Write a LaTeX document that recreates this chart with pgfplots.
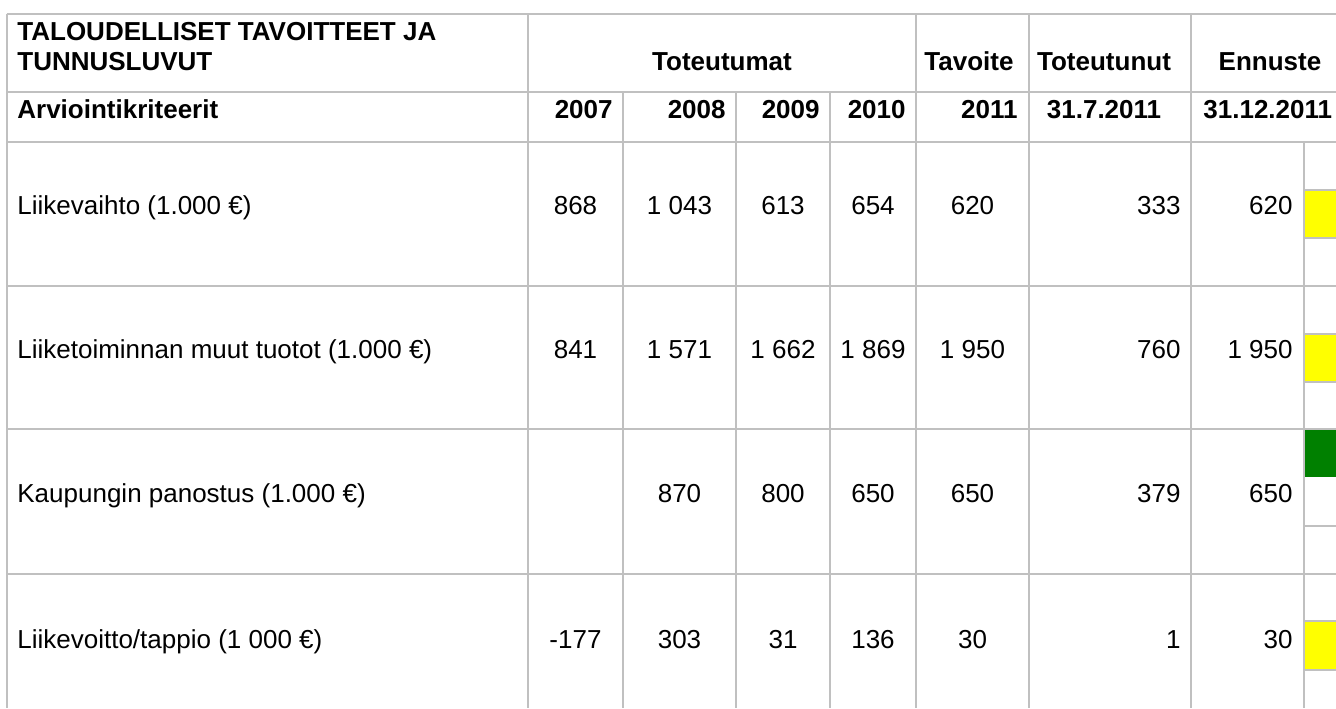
\documentclass[border=0pt]{standalone}
\usepackage{pgfplots}
\pgfplotsset{compat=1.18}
\usepackage{fontspec}
\setmainfont{Liberation Sans}
\definecolor{gridgray}{HTML}{C0C0C0}
\definecolor{cellyellow}{HTML}{FFFF00}
\definecolor{cellgreen}{HTML}{008000}
\begin{document}
\fontsize{13}{15}\selectfont
\begin{tikzpicture}
\begin{axis}[
  width=668pt, height=354pt, scale only axis,
  xmin=0, xmax=1336, ymin=0, ymax=708, y dir=reverse,
  hide axis, clip=true,
  every node near coord/.style={inner sep=0pt, font=\fontsize{13}{15}\selectfont},
  gline/.style={gridgray, line width=1pt, forget plot, mark=none},
]
% background (keeps the full picture area)
\addplot[draw=none, fill=white, forget plot] coordinates {(0,0) (1336,0) (1336,708) (0,708)} -- cycle;

% status squares
\addplot[draw=none, fill=cellyellow, forget plot] coordinates {(1305,191) (1336,191) (1336,237) (1305,237)} -- cycle;
\addplot[draw=none, fill=cellyellow, forget plot] coordinates {(1305,335) (1336,335) (1336,381) (1305,381)} -- cycle;
\addplot[draw=none, fill=cellgreen, forget plot] coordinates {(1305,430) (1336,430) (1336,477) (1305,477)} -- cycle;
\addplot[draw=none, fill=cellyellow, forget plot] coordinates {(1305,622) (1336,622) (1336,669) (1305,669)} -- cycle;

% horizontal grid lines
\addplot[gline] coordinates {(6.5,14) (1336,14)};
\addplot[gline] coordinates {(6.5,92) (1336,92)};
\addplot[gline] coordinates {(6.5,142) (1336,142)};
\addplot[gline] coordinates {(6.5,286) (1336,286)};
\addplot[gline] coordinates {(6.5,429) (1336,429)};
\addplot[gline] coordinates {(6.5,574) (1336,574)};
% sub-cell lines of the status column
\addplot[gline] coordinates {(1304,190) (1336,190)};
\addplot[gline] coordinates {(1304,238) (1336,238)};
\addplot[gline] coordinates {(1304,334) (1336,334)};
\addplot[gline] coordinates {(1304,382) (1336,382)};
\addplot[gline] coordinates {(1304,526) (1336,526)};
\addplot[gline] coordinates {(1304,621) (1336,621)};
\addplot[gline] coordinates {(1304,670) (1336,670)};

% vertical grid lines
\addplot[gline] coordinates {(7,13.5) (7,708)};
\addplot[gline] coordinates {(528,13.5) (528,708)};
\addplot[gline] coordinates {(623,92) (623,708)};
\addplot[gline] coordinates {(736,92) (736,708)};
\addplot[gline] coordinates {(830,92) (830,708)};
\addplot[gline] coordinates {(916,13.5) (916,708)};
\addplot[gline] coordinates {(1029,13.5) (1029,708)};
\addplot[gline] coordinates {(1191,13.5) (1191,708)};
\addplot[gline] coordinates {(1304,142) (1304,708)};

% header text
\node[anchor=base west, inner sep=0pt, font=\bfseries] at (axis cs:17,40) {TALOUDELLISET TAVOITTEET JA};
\node[anchor=base west, inner sep=0pt, font=\bfseries] at (axis cs:17,70) {TUNNUSLUVUT};
\node[anchor=base, inner sep=0pt, font=\bfseries] at (axis cs:722,70) {Toteutumat};
\node[anchor=base, inner sep=0pt, font=\bfseries] at (axis cs:969,70) {Tavoite};
\node[anchor=base, inner sep=0pt, font=\bfseries] at (axis cs:1104,70) {Toteutunut};
\node[anchor=base, inner sep=0pt, font=\bfseries] at (axis cs:1270,70) {Ennuste};
\node[anchor=base west, inner sep=0pt, font=\bfseries] at (axis cs:17,118) {Arviointikriteerit};
\node[anchor=base east, inner sep=0pt, font=\bfseries] at (axis cs:613,118) {2007};
\node[anchor=base east, inner sep=0pt, font=\bfseries] at (axis cs:726,118) {2008};
\node[anchor=base east, inner sep=0pt, font=\bfseries] at (axis cs:820,118) {2009};
\node[anchor=base east, inner sep=0pt, font=\bfseries] at (axis cs:906,118) {2010};
\node[anchor=base east, inner sep=0pt, font=\bfseries] at (axis cs:1018,118) {2011};
\node[anchor=base, inner sep=0pt, font=\bfseries] at (axis cs:1104,118) {31.7.2011};
\node[anchor=base west, inner sep=0pt, font=\bfseries] at (axis cs:1203,118) {31.12.2011};

% row labels
\addplot[draw=none, mark=none, forget plot, nodes near coords, point meta=explicit symbolic,
  nodes near coords align={anchor=base west},
  nodes near coords style={anchor=base west}] coordinates {
  (17,214) [Liikevaihto (1.000 €)]
  (17,358) [Liiketoiminnan muut tuotot (1.000 €)]
  (17,502) [Kaupungin panostus (1.000 €)]
  (17,648) [Liikevoitto/tappio (1 000 €)]
};

% values 2007-2011 (centred)
\addplot[draw=none, mark=none, forget plot, nodes near coords, point meta=explicit symbolic,
  nodes near coords align={anchor=base},
  nodes near coords style={anchor=base}] coordinates {
  (575.5,214) [868]   (679.5,214) [1 043] (783,214) [613]   (873,214) [654]   (972.5,214) [620]
  (575.5,358) [841]   (679.5,358) [1 571] (783,358) [1 662] (873,358) [1 869] (972.5,358) [1 950]
                      (679.5,502) [870]   (783,502) [800]   (873,502) [650]   (972.5,502) [650]
  (575.5,648) [-177]  (679.5,648) [303]   (783,648) [31]    (873,648) [136]   (972.5,648) [30]
};

% Toteutunut 31.7.2011 and Ennuste 31.12.2011 (right aligned)
\addplot[draw=none, mark=none, forget plot, nodes near coords, point meta=explicit symbolic,
  nodes near coords align={anchor=base east},
  nodes near coords style={anchor=base east}] coordinates {
  (1181,214) [333]  (1293,214) [620]
  (1181,358) [760]  (1293,358) [1 950]
  (1181,502) [379]  (1293,502) [650]
  (1181,648) [1]    (1293,648) [30]
};
\end{axis}
\end{tikzpicture}
\end{document}
